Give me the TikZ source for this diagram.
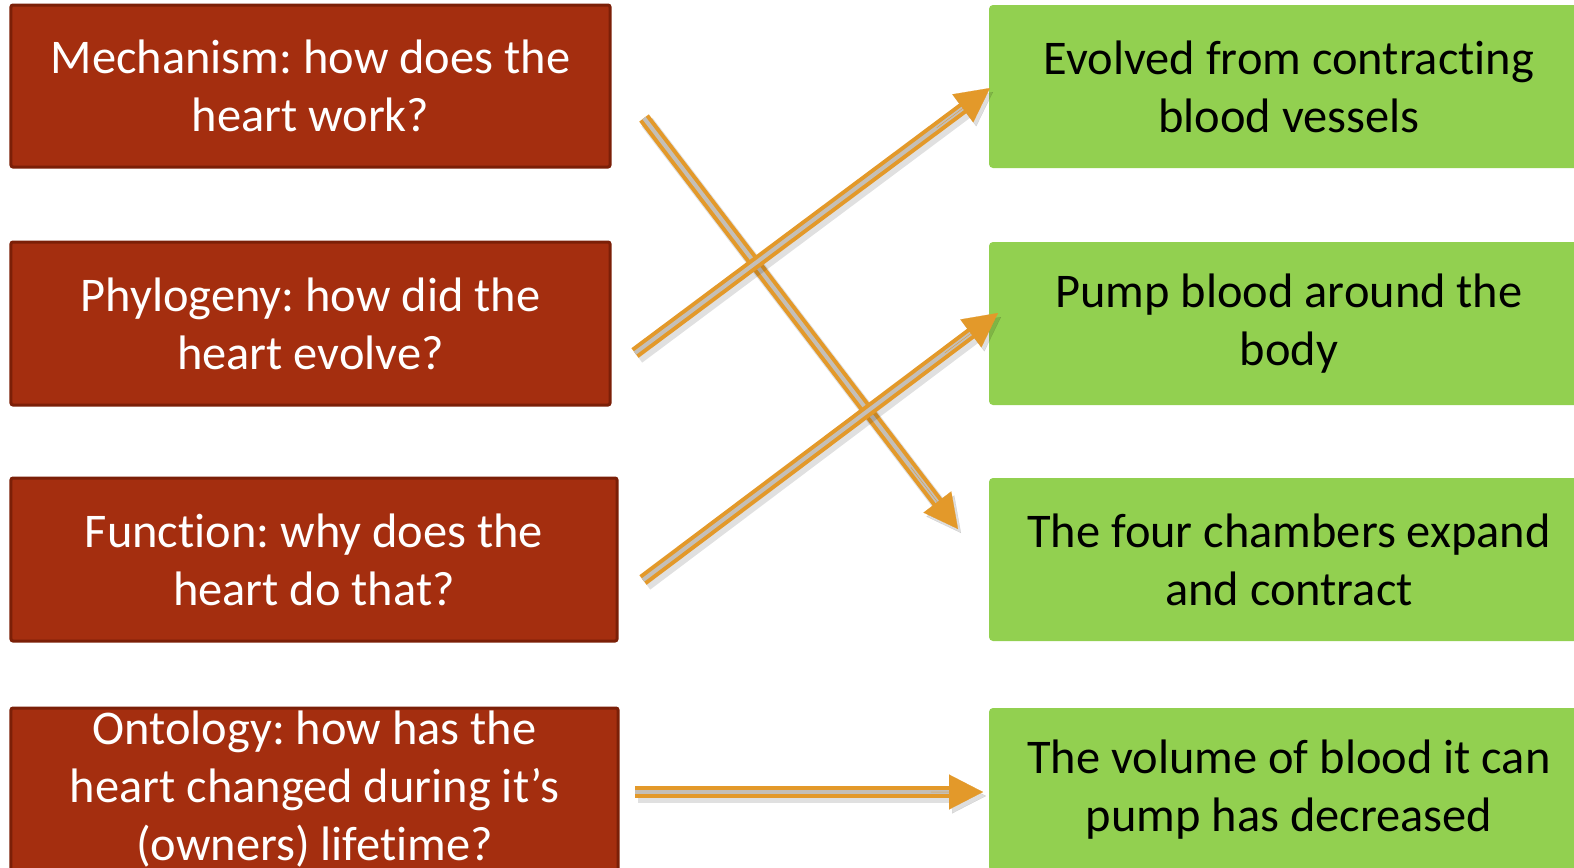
\documentclass[tikz,border=0pt]{standalone}
\usepackage{fontspec}
\setmainfont[Ligatures={NoCommon}]{Carlito}
\usetikzlibrary{arrows.meta,calc}
\definecolor{redfill}{HTML}{A42E0F}
\definecolor{redline}{HTML}{7B1F07}
\definecolor{greenfill}{HTML}{92D050}
\definecolor{arrorange}{HTML}{E3992A}
\definecolor{arrgray}{HTML}{C4BFB8}
\frenchspacing
\tikzset{
  redbox/.style={draw=redline, line width=1.5bp, fill=redfill, rounded corners=1bp, text=white, align=center, inner sep=0pt, font=\fontsize{24.2bp}{29bp}\selectfont},
  greenbox/.style={fill=greenfill, rounded corners=2bp, text=black, align=center, inner sep=0pt, font=\fontsize{24.2bp}{29bp}\selectfont},
  arrshaft/.style={draw=arrorange, line width=2bp, double=arrgray, double distance=2bp},
  arrshadow/.style={draw=black, opacity=0.12, line width=7bp},
  arrhead/.style={draw=arrorange, fill=arrorange, line width=0.1bp, -{Triangle[length=17bp,width=17.5bp]}},
  headshadow/.style={draw=black, fill=black, opacity=0.13, line width=0.1bp, -{Triangle[length=17bp,width=17.5bp]}},
}
\newcommand\myarrow[2]{%
  \draw[arrshadow, shorten >=14bp] ($(#1)+(3,4)$) -- ($(#2)+(3,4)$);
  \draw[headshadow] ($(#1)!0.85!(#2)+(3,4)$) -- ($(#2)+(3,4)$);
  \draw[arrshaft, shorten >=14bp] (#1) -- (#2);
  \draw[arrhead] ($(#1)!0.85!(#2)$) -- (#2);
}
\begin{document}
\begin{tikzpicture}[x=0.5bp,y=-0.5bp]
\useasboundingbox (0,0) rectangle (1574,867);
\clip (0,0) rectangle (1574,867);
\fill[white] (0,0) rectangle (1574,867);
% red boxes
\node[redbox, minimum width=299.5bp, minimum height=81bp] (r1) at (310.5,86) {Mechanism: how does the\\heart work?};
\node[redbox, minimum width=299.5bp, minimum height=81.5bp] (r2) at (310.5,323.5) {Phylogeny: how did the\\heart evolve?};
\node[redbox, minimum width=303bp, minimum height=81.5bp] (r3) at (314,559.5) {Function: why does the\\heart do that?};
\node[redbox, minimum width=303.5bp, minimum height=81.5bp] (r4) at (314.5,789.5) {Ontology: how has the\\heart changed during it’s\\(owners) lifetime?};
% green boxes
\node[greenbox, minimum width=300bp, minimum height=81.5bp] (g1) at (1289,86.5) {Evolved from contracting\\blood vessels};
\node[greenbox, minimum width=300bp, minimum height=81.5bp] (g2) at (1289,323.5) {Pump blood around the\\body};
\node[greenbox, minimum width=300bp, minimum height=81.5bp] (g3) at (1289,559.5) {The four chambers expand\\and contract};
\node[greenbox, minimum width=300bp, minimum height=81.5bp] (g4) at (1289,789.5) {The volume of blood it can\\pump has decreased};
% arrow ends
\coordinate (t1) at (644,118);
\coordinate (h1) at (958,529);
\coordinate (t2) at (635,353);
\coordinate (h2) at (990,88);
\coordinate (t3) at (643,580);
\coordinate (h3) at (998,313);
\coordinate (t4) at (635,792);
\coordinate (h4) at (983,792);
\myarrow{t1}{h1}
\myarrow{t2}{h2}
\myarrow{t3}{h3}
\myarrow{t4}{h4}
\end{tikzpicture}
\end{document}
